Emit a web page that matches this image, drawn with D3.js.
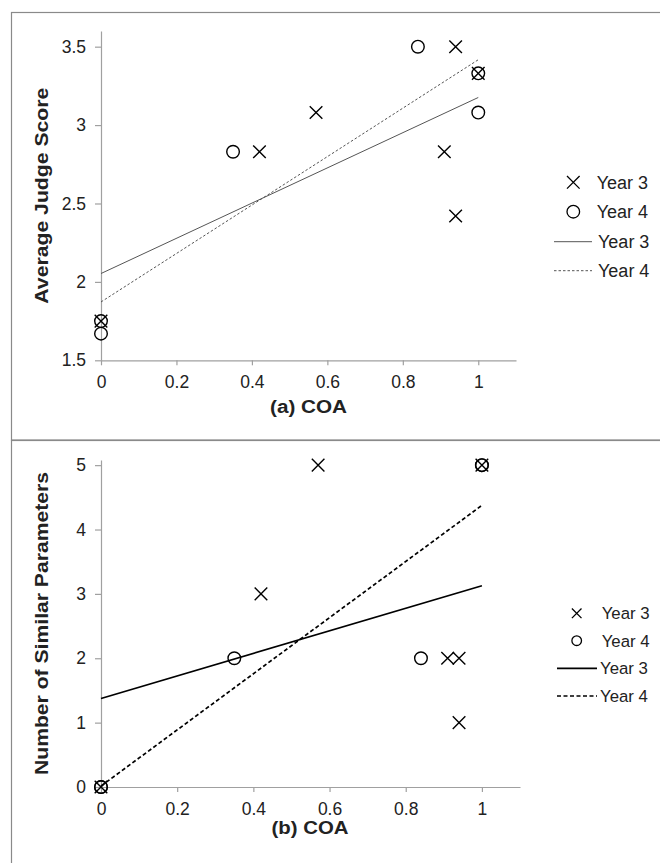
<!DOCTYPE html>
<html><head><meta charset="utf-8">
<script src="https://cdn.jsdelivr.net/npm/d3@7"></script>
<style>body{margin:0;background:#fff}svg{display:block;font-family:"Liberation Sans",Arial,sans-serif}</style>
</head><body>
<svg id="c" width="660" height="863"></svg>
<script>
// ---- data ----
const seriesNames = ["Year 3", "Year 4"];
// Panel (a): Average Judge Score vs COA
const coaA_y3 = [0, 0.42, 0.57, 0.91, 0.94, 0.94, 1];
const scoreA_y3 = [1.75, 2.83, 3.08, 2.83, 3.5, 2.42, 3.33];
const coaA_y4 = [0, 0, 0.35, 0.84, 1, 1];
const scoreA_y4 = [1.75, 1.67, 2.83, 3.5, 3.33, 3.08];
// Panel (b): Number of Similar Parameters vs COA
const coaB_y3 = [0, 0.42, 0.57, 0.91, 0.94, 0.94, 1];
const paramsB_y3 = [0, 3, 5, 2, 2, 1, 5];
const coaB_y4 = [0, 0, 0.35, 0.84, 1, 1];
const paramsB_y4 = [0, 0, 2, 2, 5, 5];
// ticks
const xTicks = [0, 0.2, 0.4, 0.6, 0.8, 1];
const yTicksA = [1.5, 2, 2.5, 3, 3.5];
const yTicksB = [0, 1, 2, 3, 4, 5];

const svg = d3.select("#c");
const txt = "#222";
const axisCol = "#a0a0a0";

// frames
svg.append("rect").attr("x", 11.5).attr("y", 12.5).attr("width", 700).attr("height", 427.5)
  .attr("fill", "none").attr("stroke", "#8a8a8a").attr("stroke-width", 1.2);
svg.append("rect").attr("x", 11.5).attr("y", 440.5).attr("width", 700).attr("height", 500)
  .attr("fill", "none").attr("stroke", "#8a8a8a").attr("stroke-width", 1.2);

function fit(xs, ys) {
  const mx = d3.mean(xs), my = d3.mean(ys);
  let sxy = 0, sxx = 0;
  xs.forEach((x, i) => { sxy += (x - mx) * (ys[i] - my); sxx += (x - mx) * (x - mx); });
  const b = sxy / sxx;
  return [[0, my - b * mx], [1, my - b * mx + b]];
}

function crossPath(s) { return `M${-s},${-s}L${s},${s}M${-s},${s}L${s},${-s}`; }

function panel(cfg) {
  const x = d3.scaleLinear().domain([0, 1.1]).range(cfg.xr);
  const y = d3.scaleLinear().domain(cfg.yd).range(cfg.yr);
  const g = svg.append("g");
  // axes
  const xa = g.append("g").attr("transform", `translate(0,${cfg.yr[0]})`)
    .call(d3.axisBottom(x).tickValues(xTicks).tickFormat(d3.format("~g")).tickSize(5).tickSizeOuter(0).tickPadding(10.5));
  const ya = g.append("g").attr("transform", `translate(${cfg.xr[0]},0)`)
    .call(d3.axisLeft(y).tickValues(cfg.yTicks).tickFormat(d3.format("~g")).tickSize(6).tickSizeOuter(0).tickPadding(9));
  [xa, ya].forEach(a => {
    a.select(".domain").attr("stroke", axisCol).attr("stroke-width", 1.2);
    a.selectAll(".tick line").attr("stroke", axisCol).attr("stroke-width", 1.2);
    a.selectAll(".tick text").attr("fill", txt).attr("font-size", 17.5).attr("font-family", '"Liberation Sans",Arial,sans-serif');
  });
  // trend lines
  const line = d3.line().x(d => x(d[0])).y(d => y(d[1]));
  g.append("path").attr("d", line(fit(cfg.x3, cfg.y3))).attr("fill", "none")
    .attr("stroke", cfg.lineCol).attr("stroke-width", cfg.lw);
  g.append("path").attr("d", line(fit(cfg.x4, cfg.y4))).attr("fill", "none")
    .attr("stroke", cfg.lineCol).attr("stroke-width", cfg.lw).attr("stroke-dasharray", cfg.dash);
  // markers
  g.selectAll(null).data(cfg.x3.map((v, i) => [v, cfg.y3[i]])).join("path")
    .attr("transform", d => `translate(${x(d[0])},${y(d[1])})`).attr("d", crossPath(6.3))
    .attr("stroke", "#000").attr("stroke-width", 1.4).attr("fill", "none");
  g.selectAll(null).data(cfg.x4.map((v, i) => [v, cfg.y4[i]])).join("circle")
    .attr("cx", d => x(d[0])).attr("cy", d => y(d[1])).attr("r", 6.3)
    .attr("stroke", "#000").attr("stroke-width", 1.4).attr("fill", "none");
  // axis titles
  g.append("text").attr("x", cfg.xTitle[0]).attr("y", cfg.xTitle[1]).attr("text-anchor", "middle")
    .attr("font-weight", "bold").attr("font-size", 18).attr("fill", txt)
    .attr("textLength", cfg.xTitleLen).attr("lengthAdjust", "spacingAndGlyphs").text(cfg.xLabel);
  const cy = (cfg.yr[0] + cfg.yr[1]) / 2;
  g.append("text").attr("transform", `translate(48,${cy}) rotate(-90)`).attr("text-anchor", "middle")
    .attr("font-weight", "bold").attr("font-size", 18).attr("fill", txt)
    .attr("textLength", cfg.yTitleLen).attr("lengthAdjust", "spacingAndGlyphs").text(cfg.yLabel);
  // legend
  const L = cfg.leg;
  const lg = g.append("g");
  lg.append("path").attr("transform", `translate(${L.mx},${L.ys[0]})`).attr("d", crossPath(L.ms))
    .attr("stroke", "#000").attr("stroke-width", 1.3).attr("fill", "none");
  lg.append("circle").attr("cx", L.mx).attr("cy", L.ys[1]).attr("r", L.ms)
    .attr("stroke", "#000").attr("stroke-width", 1.3).attr("fill", "none");
  lg.append("line").attr("x1", L.lx[0]).attr("x2", L.lx[1]).attr("y1", L.ys[2]).attr("y2", L.ys[2])
    .attr("stroke", cfg.lineCol).attr("stroke-width", cfg.lw);
  lg.append("line").attr("x1", L.lx[0]).attr("x2", L.lx[1]).attr("y1", L.ys[3]).attr("y2", L.ys[3])
    .attr("stroke", cfg.lineCol).attr("stroke-width", cfg.lw).attr("stroke-dasharray", cfg.dash);
  [0, 1, 2, 3].forEach(i => {
    lg.append("text").attr("x", i < 2 ? L.tx[0] : L.tx[1]).attr("y", L.ys[i]).attr("dy", "0.36em")
      .attr("font-size", L.fs).attr("fill", txt).text(seriesNames[i % 2]);
  });
}

panel({
  xr: [101, 516], yd: [1.5, 3.6], yr: [360.3, 31], yTicks: yTicksA,
  x3: coaA_y3, y3: scoreA_y3, x4: coaA_y4, y4: scoreA_y4,
  lineCol: "#555", lw: 1, dash: "2.5,2",
  xLabel: "(a) COA", xTitle: [308.5, 413], xTitleLen: 77,
  yLabel: "Average Judge Score", yTitleLen: 216,
  leg: { mx: 573.3, ms: 6.3, ys: [182.3, 211.7, 241.7, 270.7], lx: [554, 592], tx: [596.7, 598], fs: 18 }
});
panel({
  xr: [101, 520], yd: [0, 5.08], yr: [787, 460], yTicks: yTicksB,
  x3: coaB_y3, y3: paramsB_y3, x4: coaB_y4, y4: paramsB_y4,
  lineCol: "#000", lw: 1.7, dash: "4,2.5",
  xLabel: "(b) COA", xTitle: [310, 834], xTitleLen: 77,
  yLabel: "Number of Similar Parameters", yTitleLen: 303,
  leg: { mx: 576.7, ms: 4.8, ys: [613.3, 640.7, 668.3, 696], lx: [557, 597], tx: [601.7, 600], fs: 16.8 }
});
</script>
</body></html>
